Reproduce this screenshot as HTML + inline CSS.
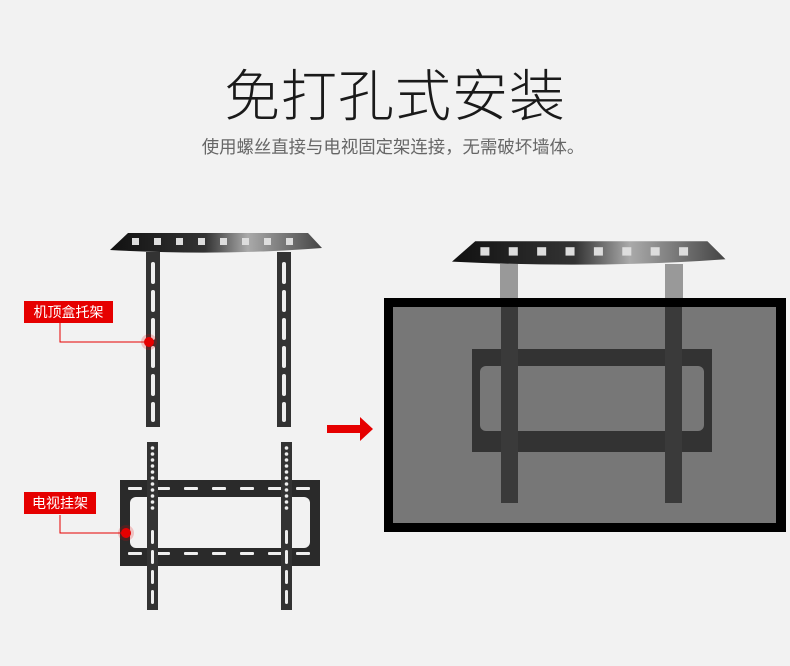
<!DOCTYPE html>
<html><head><meta charset="utf-8"><style>
body{margin:0;width:790px;height:666px;background:#f2f2f2;overflow:hidden;position:relative;font-family:"Liberation Sans","Noto Sans CJK SC",sans-serif}
.t{position:absolute;left:0;width:790px;text-align:center}
.lab{position:absolute;background:#e60000;color:#fff;font-size:14px;line-height:22px;text-align:center}
</style></head><body>
<div class="t" style="top:52px;font-size:56px;color:#1a1a1a;font-weight:300;letter-spacing:1px">免打孔式安装</div>
<div class="t" style="top:134px;font-size:17.4px;color:#666;left:-2px">使用螺丝直接与电视固定架连接，无需破坏墙体。</div>
<svg width="790" height="666" style="position:absolute;left:0;top:0">
<defs>
<linearGradient id="sh" x1="0" x2="1"><stop offset="0" stop-color="#111"/><stop offset="0.45" stop-color="#333"/><stop offset="0.65" stop-color="#aaa"/><stop offset="1" stop-color="#444"/></linearGradient>
<g id="shelf"><path d="M0 18 L18 1 L198 1 L212 16 Q110 24 0 18 Z" fill="url(#sh)"/>
<g fill="#ddd"><rect x="22" y="6" width="7" height="7"/><rect x="44" y="6" width="7" height="7"/><rect x="66" y="6" width="7" height="7"/><rect x="88" y="6" width="7" height="7"/><rect x="110" y="6" width="7" height="7"/><rect x="132" y="6" width="7" height="7"/><rect x="154" y="6" width="7" height="7"/><rect x="176" y="6" width="7" height="7"/></g></g>
<g id="leg"><rect x="0" y="0" width="14" height="175" fill="#333"/>
<g fill="#eee"><rect x="5" y="10" width="4" height="22" rx="2"/><rect x="5" y="38" width="4" height="22" rx="2"/><rect x="5" y="66" width="4" height="22" rx="2"/><rect x="5" y="94" width="4" height="22" rx="2"/><rect x="5" y="122" width="4" height="22" rx="2"/><rect x="5" y="150" width="4" height="20" rx="2"/></g></g>
<g id="brk"><rect x="0" y="0" width="200" height="86" fill="#2a2a2a"/>
<rect x="10" y="17" width="180" height="51" rx="6" fill="#f2f2f2"/>
<g fill="#eee"><rect x="8" y="7" width="14" height="3" rx="1"/><rect x="36" y="7" width="14" height="3" rx="1"/><rect x="64" y="7" width="14" height="3" rx="1"/><rect x="92" y="7" width="14" height="3" rx="1"/><rect x="120" y="7" width="14" height="3" rx="1"/><rect x="148" y="7" width="14" height="3" rx="1"/><rect x="176" y="7" width="14" height="3" rx="1"/>
<rect x="8" y="72" width="14" height="3" rx="1"/><rect x="36" y="72" width="14" height="3" rx="1"/><rect x="64" y="72" width="14" height="3" rx="1"/><rect x="92" y="72" width="14" height="3" rx="1"/><rect x="120" y="72" width="14" height="3" rx="1"/><rect x="148" y="72" width="14" height="3" rx="1"/><rect x="176" y="72" width="14" height="3" rx="1"/></g></g>
<g id="vb"><rect x="0" y="0" width="11" height="168" fill="#333"/>
<g fill="#eee"><circle cx="5.5" cy="6" r="1.8"/><circle cx="5.5" cy="12" r="1.8"/><circle cx="5.5" cy="18" r="1.8"/><circle cx="5.5" cy="24" r="1.8"/><circle cx="5.5" cy="30" r="1.8"/><circle cx="5.5" cy="36" r="1.8"/><circle cx="5.5" cy="42" r="1.8"/><circle cx="5.5" cy="48" r="1.8"/><circle cx="5.5" cy="54" r="1.8"/><circle cx="5.5" cy="60" r="1.8"/><circle cx="5.5" cy="66" r="1.8"/>
<rect x="4" y="88" width="3" height="14" rx="1.5"/><rect x="4" y="108" width="3" height="14" rx="1.5"/><rect x="4" y="128" width="3" height="14" rx="1.5"/><rect x="4" y="148" width="3" height="14" rx="1.5"/></g></g>
</defs>
<use href="#shelf" transform="translate(110,232)"/>
<use href="#leg" transform="translate(146,252)"/>
<use href="#leg" transform="translate(277,252)"/>
<use href="#brk" transform="translate(120,480)"/>
<use href="#vb" transform="translate(147,442)"/>
<use href="#vb" transform="translate(281,442)"/>
<polyline points="60,322 60,342 146,342" fill="none" stroke="#e60000" stroke-width="1"/>
<circle cx="149" cy="342" r="8" fill="#e60000" opacity="0.2"/><circle cx="149" cy="342" r="5" fill="#e60000"/>
<polyline points="60,515 60,533 124,533" fill="none" stroke="#e60000" stroke-width="1"/>
<circle cx="126" cy="533" r="8" fill="#e60000" opacity="0.2"/><circle cx="126" cy="533" r="5" fill="#e60000"/>
<polygon points="327,425 360,425 360,417 373,429 360,441 360,433 327,433" fill="#e60000"/>
<use href="#shelf" transform="translate(452,240) scale(1.29,1.2)"/>
<rect x="500" y="264" width="18" height="38" fill="#999"/><rect x="665" y="264" width="18" height="38" fill="#999"/>
<rect x="384" y="298" width="402" height="234" fill="#000"/>
<rect x="393" y="307" width="383" height="216" fill="#777"/>
<rect x="472" y="349" width="240" height="103" fill="#333"/>
<rect x="480" y="366" width="224" height="65" rx="6" fill="#777"/>
<rect x="501" y="307" width="17" height="196" fill="#3a3a3a"/>
<rect x="665" y="307" width="17" height="196" fill="#3a3a3a"/>
</svg>
<div class="lab" style="left:24px;top:301px;width:89px">机顶盒托架</div>
<div class="lab" style="left:24px;top:492px;width:72px">电视挂架</div>
</body></html>
